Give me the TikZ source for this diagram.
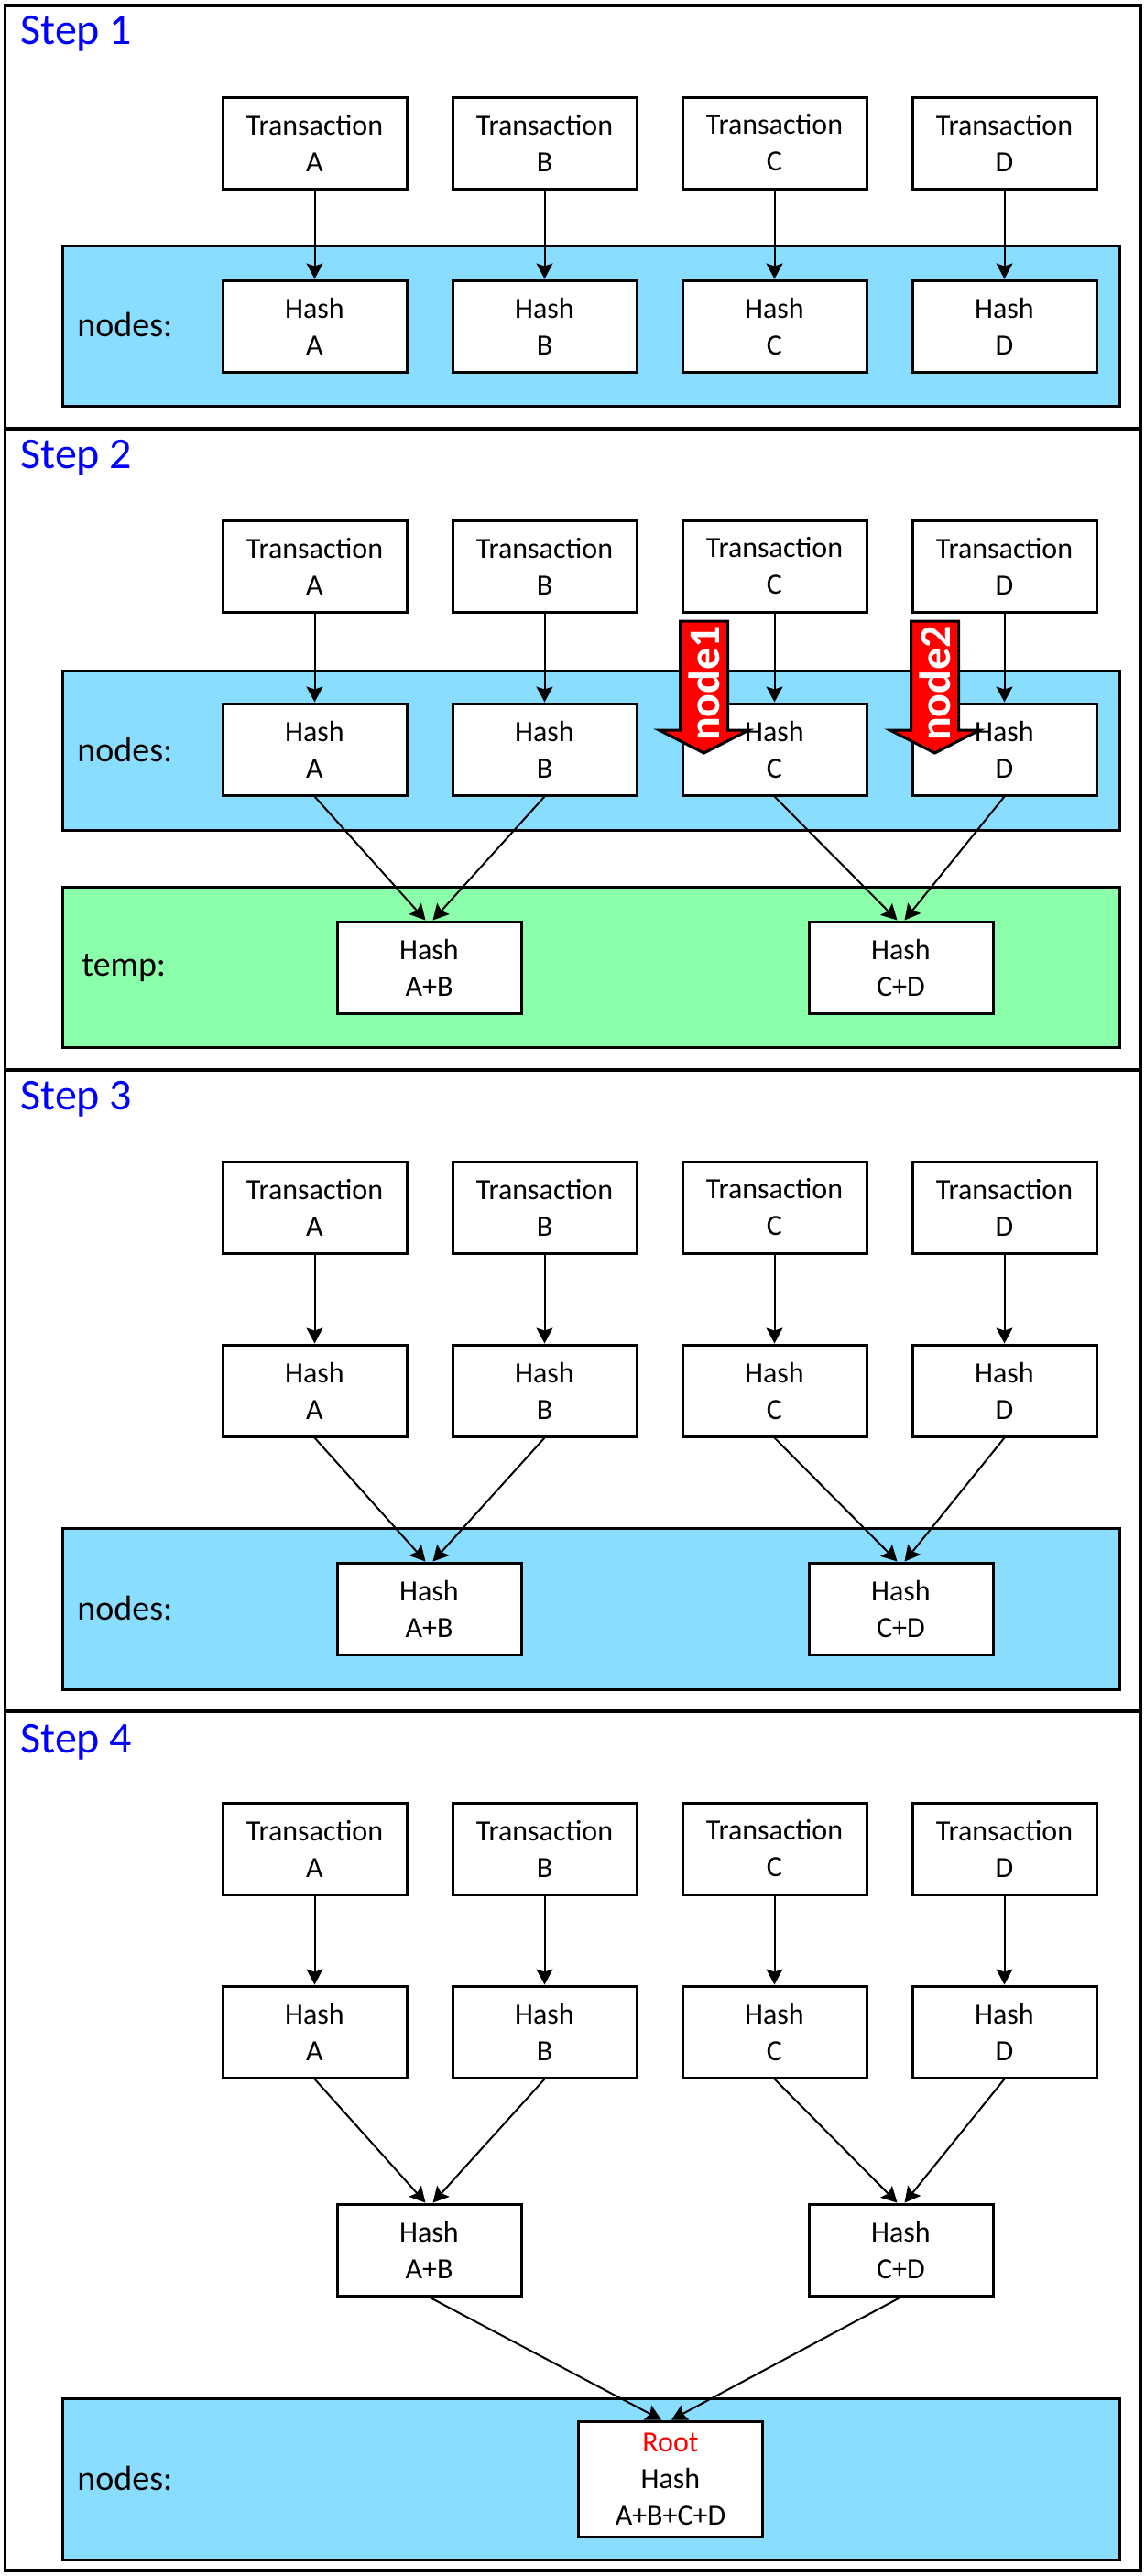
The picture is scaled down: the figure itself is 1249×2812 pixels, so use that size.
\documentclass[tikz,border=0pt]{standalone}
\usepackage{fontspec}
\setmainfont{Carlito}
\usetikzlibrary{arrows.meta}
\definecolor{nodesblue}{RGB}{137,221,255}
\definecolor{tempgreen}{RGB}{139,255,170}
\definecolor{titleblue}{RGB}{0,0,255}
\begin{document}
\begin{tikzpicture}[x=0.5pt,y=-0.5pt,
  hbox/.style={draw, line width=1.5pt, fill=white, minimum width=100.5pt, minimum height=50pt, inner sep=0pt, align=center, font=\fontsize{16}{20}\selectfont},
  conn/.style={line width=1pt, -{Stealth[length=8.5pt,width=9pt,inset=1.5pt]}},
  stitle/.style={anchor=base west, text=titleblue, font=\fontsize{24}{28}\selectfont, inner sep=0pt},
  steprect/.style={draw, line width=1.75pt},
  bluelayer/.style={draw, line width=1.5pt, fill=nodesblue},
  greenlayer/.style={draw, line width=1.5pt, fill=tempgreen},
  lbl/.style={anchor=base west, inner sep=0pt, font=\fontsize{19}{23}\selectfont},
  redarrow/.style={draw, line width=1.5pt, fill=red, line join=miter},
  redtext/.style={rotate=90, text=white, inner sep=0pt, font=\bfseries\fontsize{24}{28}\selectfont}
]
\useasboundingbox (0,0) rectangle (1249,2812);
\fill[white] (0,0) rectangle (1249,2812);

% step frames
\draw[steprect] (5.5,6) rectangle (1245,468);
\draw[steprect] (5.5,468) rectangle (1245,1168);
\draw[steprect] (5.5,1168) rectangle (1245,1868);
\draw[steprect] (5.5,1868) rectangle (1245,2806);

% titles
\node[stitle] (s1) at (22,48.3) {Step 1};
\node[stitle] (s2) at (22,511.4) {Step 2};
\node[stitle] (s3) at (22,1211.4) {Step 3};
\node[stitle] (s4) at (22,1913) {Step 4};

% layers
\draw[bluelayer] (68,268) rectangle (1222,443);
\draw[bluelayer] (68,732) rectangle (1222,906);
\draw[greenlayer] (68,968) rectangle (1222,1143);
\draw[bluelayer] (68,1668) rectangle (1222,1844);
\draw[bluelayer] (68,2618) rectangle (1222,2794);

\node[lbl] (l1) at (84,367.5) {nodes:};
\node[lbl] (l2) at (84,831) {nodes:};
\node[lbl] (l2t) at (89,1065.7) {temp:};
\node[lbl] (l3) at (84,1768) {nodes:};
\node[lbl] (l4) at (84,2718) {nodes:};

% transaction and hash boxes
\foreach \s/\T in {1/6, 2/468, 3/1168, 4/1868} {
  \foreach \c/\X in {A/343.5, B/594.5, C/845.5, D/1096.5} {
    \node[hbox] (t\s\c) at (\X,\T+150) {Transaction\\\c};
    \node[hbox] (h\s\c) at (\X,\T+350) {Hash\\\c};
    \draw[conn] (t\s\c.south) -- (h\s\c.north);
  }
}

% combined hashes
\node[hbox] (ab2) at (468.5,1056) {Hash\\A+B};
\node[hbox] (cd2) at (983.5,1056) {Hash\\C+D};
\node[hbox] (ab3) at (468.5,1756) {Hash\\A+B};
\node[hbox] (cd3) at (983.5,1756) {Hash\\C+D};
\node[hbox] (ab4) at (468.5,2456) {Hash\\A+B};
\node[hbox] (cd4) at (983.5,2456) {Hash\\C+D};
\node[hbox, minimum height=63pt] (root) at (732,2706) {\textcolor{red}{Root}\\Hash\\A+B+C+D};

\foreach \s in {2,3,4} {
  \draw[conn] (h\s A.south) -- ([xshift=-2pt]ab\s.north);
  \draw[conn] (h\s B.south) -- ([xshift=2pt]ab\s.north);
  \draw[conn] (h\s C.south) -- ([xshift=-2pt]cd\s.north);
  \draw[conn] (h\s D.south) -- ([xshift=2pt]cd\s.north);
}
\draw[conn] (ab4.south) -- ([xshift=-5pt]root.north);
\draw[conn] (cd4.south) -- ([xshift=0.5pt]root.north);

% red block arrows
\draw[redarrow] (742.5,678) -- (794.5,678) -- (794.5,797) -- (817.5,797) -- (768.5,822) -- (719.5,797) -- (742.5,797) -- cycle;
\node[redtext] (n1) at (768.5,746) {node1};
\draw[redarrow] (994.5,678) -- (1046.5,678) -- (1046.5,797) -- (1069.5,797) -- (1020.5,822) -- (971.5,797) -- (994.5,797) -- cycle;
\node[redtext] (n2) at (1020.5,746) {node2};
\end{tikzpicture}
\end{document}
